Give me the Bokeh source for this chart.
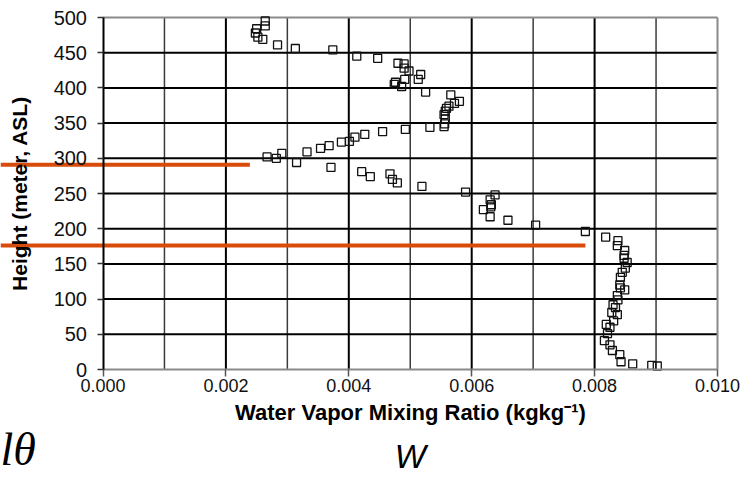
from bokeh.plotting import figure
from bokeh.models import Range1d, FixedTicker, Label, PrintfTickFormatter, ColumnDataSource
from bokeh.embed import file_html
from bokeh.resources import INLINE

# ---- data ----
mixing_ratio = [
    0.00902, 0.00893, 0.00862, 0.00843, 0.00841, 0.00829, 0.00825, 0.00816, 0.00821, 0.00825,
    0.00819, 0.00831, 0.00837, 0.00828, 0.00834, 0.00830, 0.00838, 0.00837, 0.00849, 0.00842,
    0.00841, 0.00842, 0.00845, 0.00850, 0.00853, 0.00848, 0.00848, 0.00849, 0.00837, 0.00838,
    0.00818, 0.00785, 0.00704, 0.00659, 0.00630, 0.00619, 0.00631, 0.00632, 0.00630, 0.00638,
    0.00590, 0.00519, 0.00479, 0.00471, 0.00435, 0.00467, 0.00421, 0.00371, 0.00315, 0.00282,
    0.00267, 0.00291, 0.00332, 0.00354, 0.00368, 0.00388, 0.00401, 0.00410, 0.00426, 0.00455,
    0.00492, 0.00532, 0.00555, 0.00556, 0.00557, 0.00555, 0.00557, 0.00559, 0.00563, 0.00572,
    0.00580, 0.00566, 0.00525, 0.00486, 0.00474, 0.00476, 0.00491, 0.00513, 0.00517, 0.00498,
    0.00490, 0.00490, 0.00480, 0.00447, 0.00413, 0.00374, 0.00313, 0.00284, 0.00260, 0.00252,
    0.00248, 0.00250, 0.00264, 0.00264,
]
height_m = [
    5, 6, 8, 11, 21, 27, 35, 41, 51, 60,
    64, 69, 78, 81, 88, 92, 99, 105, 113, 116,
    120, 131, 138, 144, 152, 158, 162, 169, 176, 183,
    188, 196, 205, 212, 217, 227, 231, 234, 241, 248,
    252, 260, 265, 270, 274, 278, 281, 287, 294, 300,
    302, 307, 309, 314, 318, 323, 324, 330, 334, 338,
    341, 344, 345, 349, 356, 362, 367, 371, 374, 378,
    381, 390, 394, 402, 405, 408, 412, 412, 419, 424,
    428, 434, 435, 442, 445, 454, 456, 461, 469, 472,
    478, 484, 488, 495,
]

x_ticks = [0.000, 0.002, 0.004, 0.006, 0.008, 0.010]
x_minor_ticks = [0.001, 0.003, 0.005, 0.007, 0.009]
y_ticks = [0, 50, 100, 150, 200, 250, 300, 350, 400, 450, 500]

marker_heights = [291, 176]        # orange reference lines (m)
marker_ends = [0.00239, 0.00785]   # where they stop (kg/kg)

x_title = "Water Vapor Mixing Ratio (kgkg\u207b\u00b9)"
y_title = "Height (meter, ASL)"
left_symbol = "l\u03b8"
bottom_symbol = "W"

# ---- layout: the frame covers the whole page so that marks can reach its edges ----
W_PX, H_PX = 747, 478
X0_PX, X1_PX = 102.5, 717.0      # page x of the first / last x tick
Y0_PX, Y1_PX = 369.0, 17.0       # page y of the first / last y tick
xs = (X1_PX - X0_PX) / (x_ticks[-1] - x_ticks[0])
ys = (Y0_PX - Y1_PX) / (y_ticks[-1] - y_ticks[0])
x_rng = Range1d(x_ticks[0] - X0_PX / xs, x_ticks[0] + (W_PX - X0_PX) / xs)
y_rng = Range1d(y_ticks[0] - (H_PX - Y0_PX) / ys, y_ticks[0] + Y0_PX / ys)

p = figure(width=W_PX, height=H_PX, output_backend="svg", toolbar_location=None,
           x_range=x_rng, y_range=y_rng,
           min_border=0, min_border_left=0, min_border_right=0,
           min_border_top=0, min_border_bottom=0)
p.background_fill_color = "white"
p.border_fill_color = "white"
p.outline_line_color = None
p.xgrid.visible = False
p.ygrid.visible = False

xmin, xmax = x_ticks[0], x_ticks[-1]
ymin, ymax = y_ticks[0], y_ticks[-1]

# grid lines (only inside the data area)
p.segment(x0=x_minor_ticks, x1=x_minor_ticks, y0=[ymin] * len(x_minor_ticks),
          y1=[ymax] * len(x_minor_ticks), line_color="#3c3c3c", line_width=1.5)
p.segment(x0=x_ticks[1:-1], x1=x_ticks[1:-1], y0=[ymin] * (len(x_ticks) - 2),
          y1=[ymax] * (len(x_ticks) - 2), line_color="black", line_width=2)
p.segment(x0=[xmin] * (len(y_ticks) - 2), x1=[xmax] * (len(y_ticks) - 2),
          y0=y_ticks[1:-1], y1=y_ticks[1:-1], line_color="black", line_width=2)
# top and right border
p.segment(x0=[xmin, xmax], x1=[xmax, xmax], y0=[ymax, ymin], y1=[ymax, ymax],
          line_color="#8a8a8a", line_width=2)

# axes placed at the data origin
p.xaxis.fixed_location = ymin
p.yaxis.fixed_location = xmin
p.xaxis.bounds = (xmin, xmax)
p.yaxis.bounds = (ymin, ymax)
p.xaxis.ticker = FixedTicker(ticks=x_ticks)
p.xaxis.formatter = PrintfTickFormatter(format="%.3f")
p.yaxis.ticker = FixedTicker(ticks=y_ticks)
for ax in (p.xaxis[0], p.yaxis[0]):
    ax.minor_tick_line_color = None
    ax.major_tick_in = 0
    ax.major_label_text_font = "Liberation Sans"
    ax.major_label_text_color = "#111111"
    ax.axis_label_text_font = "Liberation Sans"
    ax.axis_label_text_font_style = "bold"
    ax.axis_label_text_color = "black"

p.xaxis.axis_line_color = "#8a8a8a"
p.xaxis.axis_line_width = 2
p.xaxis.major_tick_line_color = "#555555"
p.xaxis.major_tick_line_width = 1.5
p.xaxis.major_tick_out = 7
p.xaxis.major_label_standoff = 2
p.xaxis.major_label_text_font_size = "18px"
p.xaxis.axis_label = x_title
p.xaxis.axis_label_text_font_size = "22px"
p.xaxis.axis_label_standoff = 5

p.yaxis.axis_line_color = "black"
p.yaxis.axis_line_width = 2
p.yaxis.major_tick_line_color = "#333333"
p.yaxis.major_tick_line_width = 1.5
p.yaxis.major_tick_out = 6
p.yaxis.major_label_standoff = 10
p.yaxis.major_label_text_font_size = "20px"
p.yaxis.axis_label = y_title
p.yaxis.axis_label_text_font_size = "21px"
p.yaxis.axis_label_standoff = 20

# data
src = ColumnDataSource(data=dict(w=mixing_ratio, h=height_m))
p.scatter("w", "h", source=src, marker="square", size=8, fill_color=None,
          line_color="#111111", line_width=1.3)

# orange reference lines, from the left page edge
p.segment(x0=[x_rng.start] * len(marker_heights), x1=marker_ends,
          y0=marker_heights, y1=marker_heights, line_color="#D84B0A", line_width=4)

# symbols below the chart (positions given in page pixels, converted to data units)
def page_to_y(py):
    return ymin - (py - Y0_PX) / ys

p.add_layout(Label(x=x_rng.start, y=page_to_y(449), text=left_symbol,
                   text_font="Liberation Serif", text_font_style="italic",
                   text_font_size="46px", text_baseline="middle", text_align="left",
                   text_color="black"))
p.add_layout(Label(x=(xmin + xmax) / 2, y=page_to_y(456), text=bottom_symbol,
                   text_font="Liberation Sans", text_font_style="italic",
                   text_font_size="33px", text_baseline="middle", text_align="center",
                   text_color="black"))

open("out.html", "w").write(file_html(p, INLINE))
